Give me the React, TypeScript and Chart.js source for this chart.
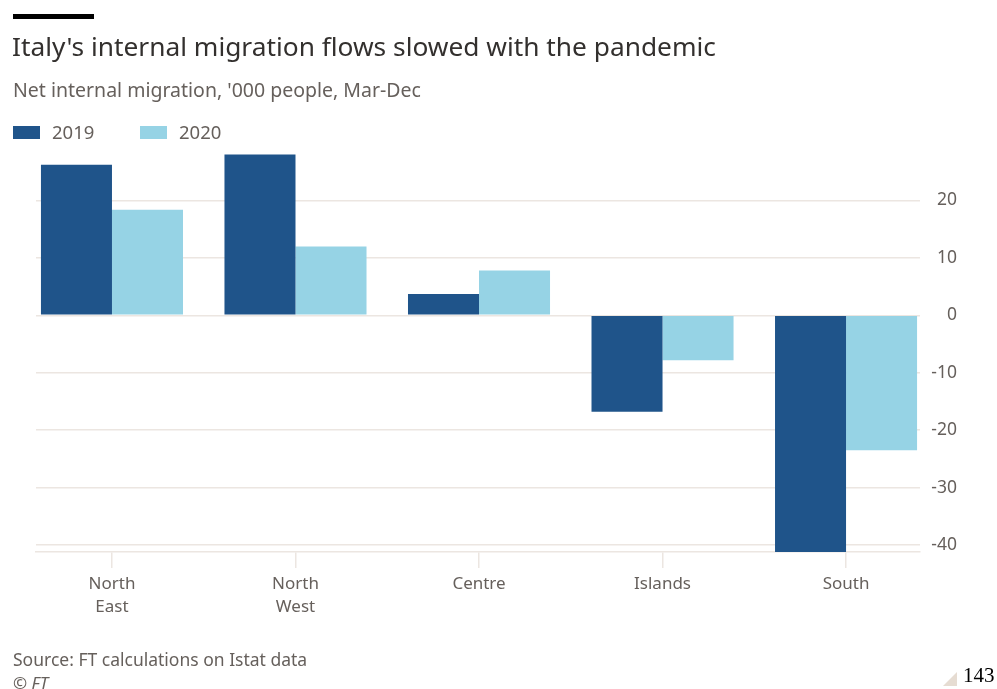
import React, { useEffect, useRef } from "react";
import { Chart, registerables } from "chart.js";

Chart.register(...registerables);

// Regions of Italy and net internal migration, '000 people, Mar-Dec
const regions: string[][] = [["North", "East"], ["North", "West"], ["Centre"], ["Islands"], ["South"]];
const values2019: number[] = [26.2, 28.0, 3.7, -16.8, -41.2];
const values2020: number[] = [18.4, 12.0, 7.8, -7.8, -23.5];
const seriesNames: string[] = ["2019", "2020"];
const yTickValues: number[] = [20, 10, 0, -10, -20, -30, -40];

const colors = ["#1f548a", "#96d3e5"];
const inkMuted = "#66605c";
const gridColor = "#ece6e1";
const fontFamily = "'Noto Sans', 'Open Sans', sans-serif";

export default function App() {
  const canvasRef = useRef<HTMLCanvasElement | null>(null);

  useEffect(() => {
    if (!canvasRef.current) return;
    const toPoints = (vals: number[]) => vals.map((y, x) => ({ x, y }));
    const chart = new Chart(canvasRef.current, {
      type: "bar",
      data: {
        datasets: [
          {
            label: seriesNames[0],
            data: toPoints(values2019),
            backgroundColor: colors[0],
            categoryPercentage: 0.774,
            barPercentage: 1,
          },
          {
            label: seriesNames[1],
            data: toPoints(values2020),
            backgroundColor: colors[1],
            categoryPercentage: 0.774,
            barPercentage: 1,
          },
        ],
      },
      options: {
        animation: false,
        responsive: false,
        maintainAspectRatio: false,
        layout: { padding: { top: 143, left: 36, right: 40, bottom: 67 } },
        plugins: {
          legend: { display: false },
          tooltip: { enabled: false },
        },
        scales: {
          x: {
            type: "linear",
            offset: false,
            min: -0.414,
            max: 4.403,
            afterBuildTicks: (scale: any) => {
              scale.ticks = regions.map((_, i) => ({ value: i }));
            },
            afterFit: (scale: any) => {
              scale.height = 70;
            },
            grid: {
              offset: false,
              drawOnChartArea: false,
              drawTicks: true,
              tickLength: 16,
              color: gridColor,
              lineWidth: 1.5,
            },
            border: { display: true, color: gridColor, width: 1.5 },
            ticks: {
              autoSkip: false,
              maxRotation: 0,
              padding: 5,
              color: inkMuted,
              font: { family: fontFamily, size: 17, lineHeight: 1.35 },
              callback: (v: any) => regions[Math.round(Number(v))] as any,
            },
          },
          y: {
            position: "right",
            min: -41.2,
            max: 30,
            afterBuildTicks: (scale: any) => {
              scale.ticks = yTickValues.map((value) => ({ value }));
            },
            afterFit: (scale: any) => {
              scale.width = 37;
            },
            grid: {
              drawTicks: false,
              color: gridColor,
              lineWidth: 1.5,
            },
            border: { display: false },
            ticks: {
              crossAlign: "far",
              padding: 8,
              color: inkMuted,
              font: { family: fontFamily, size: 17.5 },
            },
          },
        },
      },
    });
    return () => chart.destroy();
  }, []);

  const text = (style: React.CSSProperties): React.CSSProperties => ({
    position: "absolute",
    margin: 0,
    whiteSpace: "nowrap",
    fontFamily,
    ...style,
  });

  return (
    <div
      style={{
        position: "absolute",
        left: 0,
        top: 0,
        width: 997,
        height: 689,
        background: "#ffffff",
        overflow: "hidden",
      }}
    >
      <canvas
        ref={canvasRef}
        width={997}
        height={689}
        style={{ position: "absolute", left: 0, top: 0, width: 997, height: 689 }}
      />
      <div style={{ position: "absolute", left: 13, top: 14, width: 81, height: 5, background: "#000000" }} />
      <div style={text({ left: 12, top: 28, fontSize: 26.3, lineHeight: "36px", color: "#33302e" })}>
        Italy's internal migration flows slowed with the pandemic
      </div>
      <div style={text({ left: 13, top: 77, fontSize: 19.5, lineHeight: "26px", color: inkMuted })}>
        Net internal migration, '000 people, Mar-Dec
      </div>
      {seriesNames.map((name, i) => (
        <div key={name} style={text({ left: 13 + i * 127, top: 119, height: 26, display: "flex", alignItems: "center" })}>
          <span style={{ display: "inline-block", width: 27, height: 13, background: colors[i], marginRight: 12 }} />
          <span style={{ fontSize: 18.5, lineHeight: "26px", color: inkMuted }}>{name}</span>
        </div>
      ))}
      <div style={text({ left: 13, top: 647, fontSize: 17.5, lineHeight: "24px", color: inkMuted })}>
        Source: FT calculations on Istat data
      </div>
      <div style={text({ left: 13, top: 671, fontSize: 17, lineHeight: "24px", color: inkMuted, fontStyle: "italic" })}>
        © FT
      </div>
      <div
        style={{
          position: "absolute",
          left: 943,
          top: 672,
          width: 0,
          height: 0,
          borderLeft: "14px solid transparent",
          borderBottom: "14px solid #e6dcd2",
        }}
      />
      <div
        style={{
          position: "absolute",
          left: 963,
          top: 662,
          fontFamily: "'Liberation Serif', 'DejaVu Serif', serif",
          fontSize: 21,
          lineHeight: "26px",
          color: "#000000",
        }}
      >
        143
      </div>
    </div>
  );
}
